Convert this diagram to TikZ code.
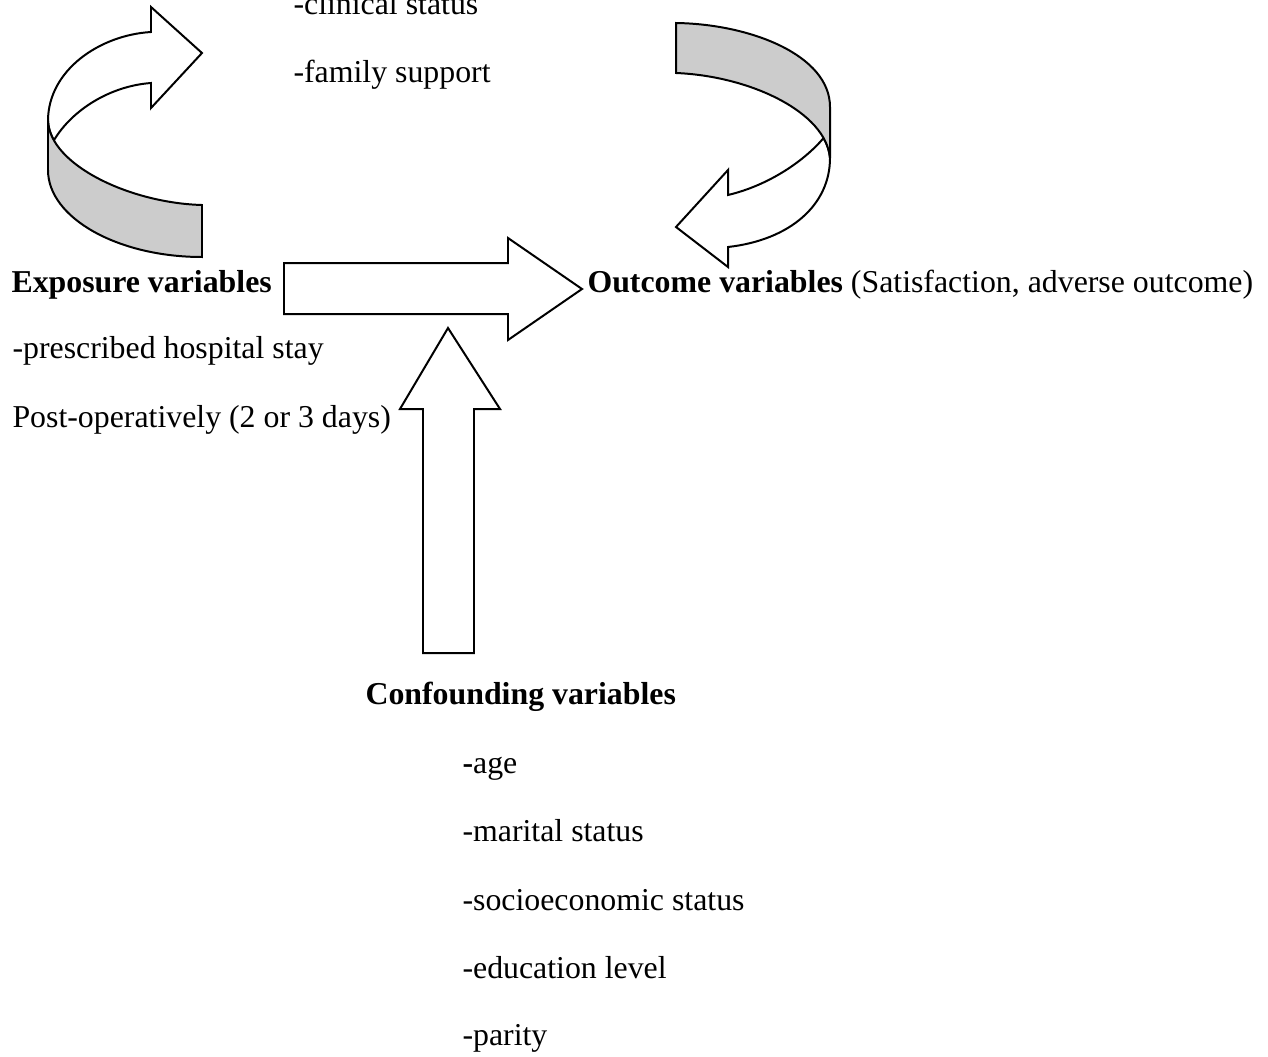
\documentclass[tikz,border=0pt]{standalone}
\usepackage{fontspec}
\setmainfont{Liberation Serif}
\usetikzlibrary{positioning}
\definecolor{bandgray}{RGB}{204,204,204}

\begin{document}
\begin{tikzpicture}[x=0.377pt,y=-0.377pt,line join=miter,
    txt/.style={anchor=base west,inner sep=0pt,font=\fontsize{12}{14}\selectfont},
    blk/.style={draw,line width=0.75pt,fill=white},
    band/.style={draw,line width=0.75pt,fill=bandgray}]

            \useasboundingbox (0,0) rectangle (1268,1057);

            % curved arrow, left
            \draw[blk] (151,32) -- (151,7) -- (202,53) -- (151,108) -- (151,83)
                .. controls (110,86) and (72,110) .. (53.9,140.3)
                .. controls (50.4,134.1) and (48.3,127.6) .. (48,121)
                .. controls (48,70) and (100,35) .. (151,32) -- cycle;
            \draw[band] (48,121) -- (48,170)
                .. controls (48,218) and (118,257) .. (202,257) -- (202,205)
                .. controls (130,203) and (50,165) .. (48,121) -- cycle;

            % curved arrow, right
            \draw[blk] (823.6,138) .. controls (805,160) and (770,185) .. (728,195)
                -- (728,170) -- (676,227) -- (728,267) -- (728,247)
                .. controls (790,240) and (830,205) .. (830,158)
                .. controls (829.4,151.1) and (827.2,144.4) .. (823.6,138) -- cycle;
            \draw[band] (676,23) .. controls (750,24) and (830,55) .. (830,107) -- (830,158)
                .. controls (826,112) and (750,76) .. (676,73) -- cycle;

            % block arrows
            \draw[blk] (284,263) -- (508,263) -- (508,238) -- (582,289)
                -- (508,340) -- (508,314) -- (284,314) -- cycle;
            \draw[blk] (423,653) -- (423,409) -- (400,409) -- (448,328)
                -- (500,409) -- (474,409) -- (474,653) -- cycle;

            \node[txt] (clinical) at (293,14) {-clinical status};
            \node[txt] (family) at (293,82) {-family support};

            \node[txt] (exposure) at (11,292) {\textbf{Exposure variables}};
            \node[txt] (prescribed) at (12,358) {-prescribed hospital stay};
            \node[txt] (postop) at (12,427) {Post-operatively (2 or 3 days)};

            \node[txt] (outcome) at (587,292) {\textbf{Outcome variables} (Satisfaction, adverse outcome)};

            \node[txt] (confounding) at (365,704) {\textbf{Confounding variables}};
            \node[txt] (age) at (462,773) {\textbf{-}age};
            \node[txt] (marital) at (462,841) {-marital status};
            \node[txt] (socio) at (462,910) {-socioeconomic status};
            \node[txt] (education) at (462,978) {-education level};
            \node[txt] (parity) at (462,1045) {-parity};

        \end{tikzpicture}
\end{document}
